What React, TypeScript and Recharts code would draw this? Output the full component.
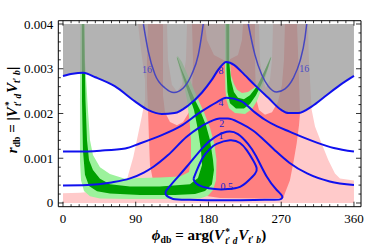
import React from 'react';
import { ComposedChart, Scatter, XAxis, YAxis } from 'recharts';

// phi in degrees, r in units of 1e-3
type Pt = [number, number];

const xTicks = [0, 10, 20, 30, 40, 50, 60, 70, 80, 90, 100, 110, 120, 130, 140, 150, 160, 170, 180,
  190, 200, 210, 220, 230, 240, 250, 260, 270, 280, 290, 300, 310, 320, 330, 340, 350, 360];
const xMajor = [0, 90, 180, 270, 360];
const yTicks = [0, 0.2, 0.4, 0.6, 0.8, 1, 1.2, 1.4, 1.6, 1.8, 2, 2.2, 2.4, 2.6, 2.8, 3, 3.2, 3.4, 3.6, 3.8, 4];
const yLabels = ['0', '0.001', '0.002', '0.003', '0.004'];

const pinkRegion: Pt[] = [
  [0, 0], [0, 0.22], [21, 0.23], [42, 0.26], [64.3, 0.36], [78.8, 0.51], [87, 1.03], [93.2, 1.56],
  [97.4, 1.93], [101.4, 2.3], [101.4, 2.75], [96.5, 3.42], [92.8, 4], [303.1, 4], [304.3, 3.2],
  [307.7, 2.08], [311.8, 1.71], [320, 1.33], [328.2, 0.96], [336.5, 0.66], [342.7, 0.55], [360, 0.5], [360, 0],
];

const redRegion: Pt[] = [
  [105.2, 4], [103.9, 3.2], [103.9, 2.64], [105.2, 2.08], [106.4, 1.41], [107.6, 0.85], [111.3, 0.51],
  [120, 0.38], [144.7, 0.29], [169.5, 0.18], [194.2, 0.11], [243.7, 0.1], [272.5, 0.11], [274.6, 0.22],
  [280.8, 0.51], [284.9, 0.89], [289.1, 1.33], [292, 1.74], [293.2, 2.0], [292, 2.75], [290.7, 3.42],
  [289.5, 4], [274.6, 4], [273.4, 3.2], [270.9, 2.64], [266, 2.26], [258.6, 2.03], [249.9, 1.97],
  [242.5, 2.08], [238.8, 2.35], [237.5, 3.2], [237.5, 4], [222.7, 4], [221.4, 3.64], [216.5, 3.31],
  [201.6, 3.17], [186.8, 3.31], [178.1, 3.64], [175.7, 4], [159.6, 4], [160.8, 3.2], [159.6, 2.41],
  [155.9, 2.03], [148.5, 1.81], [141, 1.74], [132.4, 1.81], [126.2, 2.03], [123.7, 2.41], [123.7, 3.2], [123.7, 4],
];

const leftHole: Pt[] = [[128.7, 4], [129.9, 3.2], [134.8, 2.64], [141, 2.49], [147.2, 2.64], [152.1, 3.2], [153.4, 4]];
const rightHole: Pt[] = [[242.5, 4], [243.7, 3.2], [247.4, 2.75], [251.1, 2.57], [256, 2.75], [258.6, 3.2], [259.8, 4]];

const greenBandLight: Pt[] = [
  [21.7, 4], [21, 2.3], [21, 0.96], [22.3, 0.51], [26, 0.27], [33.4, 0.15], [45.8, 0.1], [82.9, 0.09],
  [132.4, 0.09], [169.5, 0.1], [179.4, 0.16], [185.6, 0.29], [189.3, 0.51], [189.9, 0.96], [187.4, 1.3],
  [181.9, 1.68], [174.4, 2.03], [165.8, 2.37], [157.1, 2.75], [147.2, 3.15], [142.3, 3.28], [140.4, 3.26],
  [144.7, 2.97], [149.7, 2.64], [153.4, 2.3], [156.5, 1.85], [158.4, 1.41], [158.4, 0.96], [155.9, 0.69],
  [144.7, 0.59], [120, 0.57], [95.3, 0.56], [76.7, 0.54], [58.1, 0.65], [45.8, 0.8], [37.1, 1.07],
  [33.4, 1.41], [30.9, 2.08], [27.2, 3.2], [27.2, 4],
];

const greenBandDark: Pt[] = [
  [23.5, 4], [23.5, 2.3], [24.7, 1.18], [27.2, 0.63], [32.2, 0.38], [42.1, 0.26], [58.1, 0.21], [95.3, 0.18],
  [138.6, 0.18], [163.3, 0.2], [175.7, 0.27], [184.3, 0.42], [186.8, 0.74], [185.6, 0.96], [181.9, 1.41],
  [176.9, 1.74], [169.5, 2.08], [163.3, 2.3], [154.6, 2.66], [146, 3.02], [141.7, 3.24], [141, 3.24],
  [149.7, 2.75], [155.9, 2.41], [162.1, 2.08], [167, 1.63], [170.7, 1.18], [172, 0.85], [167, 0.56],
  [157.1, 0.42], [120, 0.37], [82.9, 0.37], [58.1, 0.42], [45.8, 0.54], [37.1, 0.74], [32.2, 0.96],
  [29.7, 1.41], [27.8, 2.3], [26, 4],
];

const greenHookLight: Pt[] = [
  [200.4, 4], [200.4, 2.97], [201, 2.53], [202.3, 2.3], [205.4, 2.12], [212.8, 2.01], [225.2, 1.99],
  [233.8, 2.1], [240, 2.28], [246.2, 2.57], [252.4, 2.93], [258, 3.26], [256.7, 3.27], [249.9, 2.97],
  [242.5, 2.7], [236.3, 2.57], [228.9, 2.48], [221.4, 2.46], [215.3, 2.53], [211.5, 2.66], [207.8, 2.86],
  [206.6, 3.2], [206.6, 4],
];

const greenHookDark: Pt[] = [
  [202, 4], [202.3, 2.97], [203.5, 2.48], [206.6, 2.23], [214, 2.11], [223.9, 2.11], [231.3, 2.21],
  [238.8, 2.41], [246.2, 2.68], [253.6, 3.02], [257.3, 3.24], [256.7, 3.24], [248.7, 2.93], [240, 2.61],
  [231.3, 2.41], [223.9, 2.32], [216.5, 2.35], [211.5, 2.48], [207.8, 2.75], [205.4, 3.2], [205.4, 4],
];

const contour16Left: Pt[] = [
  [99.5, 4], [105.5, 3.39], [113.8, 2.87], [126.2, 2.57], [137.3, 2.47], [148.8, 2.57], [159.2, 2.87],
  [167.4, 3.31], [172.3, 3.84], [173.5, 4],
];
const contour16Right: Pt[] = [
  [229.2, 4], [237.5, 3.31], [245.8, 2.87], [254, 2.61], [264.4, 2.48], [274.7, 2.55], [284.9, 2.79],
  [293.2, 3.17], [299.4, 3.69], [301.5, 4],
];

const contour8: Pt[] = [
  [0, 2.84], [12, 2.89], [25, 2.91], [40, 2.81], [64, 2.61], [89, 2.27], [105, 2.08], [122, 1.99],
  [138, 2.01], [155, 2.18], [172, 2.47], [184, 2.75], [193, 3.0], [202, 3.15], [212, 3.08], [221, 2.93],
  [237, 2.64], [254, 2.35], [270, 2.08], [279, 2.01], [291, 2.01], [308, 2.16], [324, 2.38], [343, 2.64], [360, 2.84],
];

const contour4: Pt[] = [
  [0, 1.15], [20, 1.15], [46, 1.17], [77, 1.22], [95, 1.33], [120, 1.5], [145, 1.71], [170, 2.03],
  [190, 2.25], [202, 2.35], [221, 2.27], [237, 2.03], [250, 1.86], [265, 1.71], [281, 1.59], [298, 1.46],
  [314, 1.35], [335, 1.23], [360, 1.15],
];

const contour2: Pt[] = [
  [0, 0.39], [30, 0.4], [60, 0.46], [83, 0.55], [100, 0.68], [112, 0.81], [130, 1.07], [153, 1.48],
  [168, 1.68], [180, 1.8], [194, 1.89], [204, 1.89], [220, 1.78], [235, 1.62], [248, 1.42], [262, 1.18],
  [280, 0.9], [302, 0.66], [330, 0.48], [360, 0.4],
];

const loop1: Pt[] = [
  [127.4, 0.27], [138.6, 0.51], [153, 0.81], [173.6, 1.25], [188, 1.47], [202.5, 1.59], [216.5, 1.54],
  [228.9, 1.32], [238.8, 1.05], [252, 0.59], [264.4, 0.29], [271, 0.16], [268.5, 0.08], [249.9, 0.07],
  [206.6, 0.06], [157.1, 0.07], [136.2, 0.09], [127.4, 0.18], [127.4, 0.27],
];

const loop05: Pt[] = [
  [161.4, 0.54], [165.8, 0.74], [173.6, 1.03], [181.9, 1.21], [190.2, 1.32], [206.6, 1.4], [219, 1.34],
  [227.3, 1.18], [235, 0.96], [239.6, 0.78], [237.5, 0.65], [228.9, 0.49], [219, 0.36], [204.1, 0.31],
  [188, 0.31], [173.2, 0.36], [164.5, 0.44], [161.4, 0.54],
];

const contourLabels = [
  { x: 103.9, y: 2.99, text: '16', color: '#4a4ac6' },
  { x: 298.6, y: 3.0, text: '16', color: '#4a4ac6' },
  { x: 195.5, y: 2.97, text: '8', color: '#1a1ad0' },
  { x: 195.5, y: 2.24, text: '4', color: '#1a1ad0' },
  { x: 196.3, y: 1.77, text: '2', color: '#1a1ad0' },
  { x: 195.5, y: 1.5, text: '1', color: '#1a1ad0' },
  { x: 202.5, y: 0.36, text: '0.5', color: '#1a1ad0' },
];

const grayTop: Pt[] = [[0, 4], [360, 4], ...contour8.slice().reverse()];

const X_DOMAIN: [number, number] = [-5.8, 368.7];
const Y_DOMAIN: [number, number] = [-0.083, 4.074];
const SERIF = '"Liberation Serif", "DejaVu Serif", serif';
const BLUE = '#1010ee';

const toRows = (a: Pt[]) => a.map(([x, y]) => ({ x, y }));
const noDot = () => <g />;

const area = (key: string, d: Pt[], color: string, opacity = 1) => (
  <Scatter
    key={key}
    data={toRows(d)}
    line={{ fill: color, fillOpacity: opacity, stroke: 'none' }}
    lineType="joint"
    lineJointType="linear"
    shape={noDot}
    legendType="none"
    isAnimationActive={false}
  />
);

const curve = (key: string, d: Pt[], color: string, width: number, type: any) => (
  <Scatter
    key={key}
    data={toRows(d)}
    line={{ stroke: color, strokeWidth: width, fill: 'none' }}
    lineType="joint"
    lineJointType={type}
    shape={noDot}
    legendType="none"
    isAnimationActive={false}
  />
);

const LabelShape = (p: any) => (
  <text x={p.cx} y={p.cy} textAnchor="middle" dominantBaseline="central" fontFamily={SERIF} fontSize={10} fill={p.payload.color}>
    {p.payload.text}
  </text>
);

const BottomTick = (p: any) => {
  const v = p.payload.value;
  const major = xMajor.includes(v);
  return (
    <g>
      <line x1={p.x} x2={p.x} y1={p.y} y2={p.y - (major ? 5 : 2.5)} stroke="#000" strokeWidth={0.8} />
      {major && (
        <text x={p.x} y={p.y + 16} textAnchor="middle" fontFamily={SERIF} fontSize={13} fill="#000">
          {v}
        </text>
      )}
    </g>
  );
};

const TopTick = (p: any) => {
  const major = xMajor.includes(p.payload.value);
  return <line x1={p.x} x2={p.x} y1={p.y} y2={p.y + (major ? 5 : 2.5)} stroke="#000" strokeWidth={0.8} />;
};

const LeftTick = (p: any) => {
  const v = p.payload.value;
  const major = Number.isInteger(v);
  return (
    <g>
      <line x1={p.x} x2={p.x + (major ? 5 : 2.5)} y1={p.y} y2={p.y} stroke="#000" strokeWidth={0.8} />
      {major && (
        <text x={p.x - 5} y={p.y + 4.5} textAnchor="end" fontFamily={SERIF} fontSize={13} fill="#000">
          {yLabels[v]}
        </text>
      )}
    </g>
  );
};

const RightTick = (p: any) => {
  const major = Number.isInteger(p.payload.value);
  return <line x1={p.x} x2={p.x - (major ? 5 : 2.5)} y1={p.y} y2={p.y} stroke="#000" strokeWidth={0.8} />;
};

const Stack = ({ sup, sub }: { sup: string; sub: React.ReactNode }) => (
  <span style={{ display: 'inline-flex', flexDirection: 'column', verticalAlign: 'middle', fontSize: '0.62em', lineHeight: 1, margin: '0 1px' }}>
    <span>{sup}</span>
    <span>{sub}</span>
  </span>
);

const subStyle: React.CSSProperties = { fontSize: '0.65em', verticalAlign: '-0.3em' };

const App = () => (
  <div style={{ position: 'relative', width: 365, height: 249, background: '#fff' }}>
    <style>{'body{margin:0}'}</style>
    <ComposedChart width={365} height={249} margin={{ top: 20.7, right: 4, bottom: 12.3, left: 0 }}>
      {area('pink', pinkRegion, '#ffcaca')}
      {area('red', redRegion, '#ff8080')}
      {area('holeL', leftHole, '#ffffff')}
      {area('holeR', rightHole, '#ffffff')}
      {area('gbl', greenBandLight, '#9cf29c')}
      {area('gbd', greenBandDark, '#00a000')}
      {area('ghl', greenHookLight, '#9cf29c')}
      {area('ghd', greenHookDark, '#00a000')}
      {area('gray', grayTop, '#959595', 0.72)}
      {curve('c16l', contour16Left, '#4646c0', 1.5, 'monotoneX')}
      {curve('c16r', contour16Right, '#4646c0', 1.5, 'monotoneX')}
      {curve('c8', contour8, BLUE, 2, 'monotoneX')}
      {curve('c4', contour4, BLUE, 2, 'monotoneX')}
      {curve('c2', contour2, BLUE, 2, 'monotoneX')}
      {curve('c1', loop1, BLUE, 2, 'natural')}
      {curve('c05', loop05, BLUE, 2, 'natural')}
      <Scatter data={contourLabels} shape={LabelShape} legendType="none" isAnimationActive={false} />
      <XAxis type="number" dataKey="x" domain={X_DOMAIN} allowDataOverflow ticks={xTicks} interval={0}
        tick={BottomTick} tickLine={false} tickSize={0} tickMargin={0} height={30} axisLine={{ stroke: '#000' }} />
      <XAxis xAxisId="top" orientation="top" mirror type="number" dataKey="x" domain={X_DOMAIN} allowDataOverflow
        ticks={xTicks} interval={0} tick={TopTick} tickLine={false} tickSize={0} tickMargin={0} axisLine={{ stroke: '#000' }} />
      <YAxis type="number" dataKey="y" domain={Y_DOMAIN} allowDataOverflow ticks={yTicks} interval={0}
        tick={LeftTick} tickLine={false} tickSize={0} tickMargin={0} width={58.3} axisLine={{ stroke: '#000' }} />
      <YAxis yAxisId="right" orientation="right" mirror type="number" dataKey="y" domain={Y_DOMAIN} allowDataOverflow
        ticks={yTicks} interval={0} tick={RightTick} tickLine={false} tickSize={0} tickMargin={0} axisLine={{ stroke: '#000' }} />
    </ComposedChart>
    <div style={{ position: 'absolute', left: 209, top: 237, transform: 'translate(-50%, -50%)', whiteSpace: 'nowrap',
      fontFamily: SERIF, fontWeight: 'bold', fontSize: 15, lineHeight: 1 }}>
      <i>ϕ</i><span style={subStyle}>db</span> = arg(<i>V</i><Stack sup="*" sub={<><i>t</i>′ <i>d</i></>} />
      <i>V</i><span style={subStyle}><i>t</i>′ <i>b</i></span>)
    </div>
    <div style={{ position: 'absolute', left: 14, top: 110, transform: 'translate(-50%, -50%) rotate(-90deg)', whiteSpace: 'nowrap',
      fontFamily: SERIF, fontWeight: 'bold', fontSize: 15, lineHeight: 1 }}>
      <i>r</i><span style={subStyle}>db</span> = |<i>V</i><Stack sup="*" sub={<><i>t</i>′ <i>d</i></>} />
      <i>V</i><span style={subStyle}><i>t</i>′ <i>b</i></span>|
    </div>
  </div>
);

export default App;
